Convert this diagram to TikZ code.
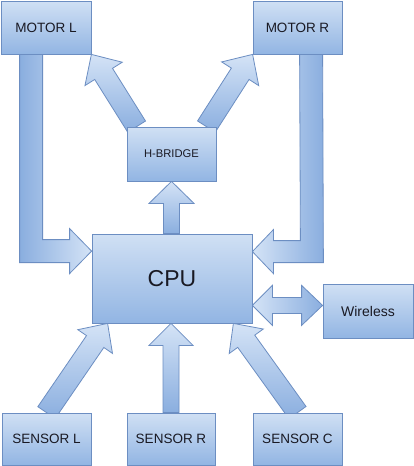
\documentclass[tikz,border=0pt]{standalone}
\usepackage{fontspec}
\setmainfont{Liberation Sans}
\usetikzlibrary{calc}
\pgfdeclarelayer{bg}
\pgfsetlayers{bg,main}
\definecolor{btop}{RGB}{208,224,244}
\definecolor{bbot}{RGB}{146,181,227}
\definecolor{bline}{RGB}{108,142,194}
\definecolor{alight}{RGB}{212,227,246}
\definecolor{adark}{RGB}{138,174,223}
\definecolor{txt}{RGB}{25,25,35}
\tikzset{
  box/.style={rectangle, draw=bline, line width=0.8pt, top color=btop, bottom color=bbot,
    inner sep=0pt, text=txt, font=\fontsize{13.5}{15}\selectfont},
  barr/.style={draw=bline, line width=0.8pt, top color=alight, bottom color=adark, line join=miter},
  barrlr/.style={draw=bline, line width=0.8pt, left color=adark, right color=alight, line join=miter},
  barrrl/.style={draw=bline, line width=0.8pt, left color=alight, right color=adark, line join=miter}
}
% #1 style, #2 start coord, #3 tip coord, #4 shaft half width, #5 head half width, #6 head length
\newcommand\blockarr[6]{%
  \coordinate (tmpH) at ($(#3)!#6!(#2)$);
  \path[#1] ($(#2)!#4!90:(#3)$) -- ($(tmpH)!#4!-90:(#2)$) -- ($(tmpH)!#5!-90:(#2)$) -- (#3)
    -- ($(tmpH)!#5!90:(#2)$) -- ($(tmpH)!#4!90:(#2)$) -- ($(#2)!#4!-90:(#3)$) -- cycle;
}
\begin{document}
\begin{tikzpicture}[x=1pt,y=-1pt]
\useasboundingbox (0,0) rectangle (414,466);
% nodes
\node[box, minimum width=90pt, minimum height=53pt] (ml) at (46,27.5) {MOTOR L};
\node[box, minimum width=89pt, minimum height=53pt] (mr) at (297.5,27.5) {MOTOR R};
\node[box, minimum width=89pt, minimum height=54pt, font=\fontsize{11.2}{13}\selectfont] (hb) at (171.5,154) {H-BRIDGE};
\node[box, minimum width=160pt, minimum height=89pt, font=\fontsize{23}{26}\selectfont] (cpu) at (172,278.5) {CPU};
\node[box, minimum width=90pt, minimum height=54pt, font=\fontsize{14}{16}\selectfont] (wl) at (368,311) {Wireless};
\node[box, minimum width=89pt, minimum height=52pt] (sl) at (46.5,439) {SENSOR L};
\node[box, minimum width=88pt, minimum height=52pt] (sr) at (171,439) {SENSOR R};
\node[box, minimum width=89pt, minimum height=52pt] (sc) at (297.5,439) {SENSOR C};
% helper coordinates
\coordinate (a1) at ($(hb.north west)+(10,0)$);
\coordinate (a2) at ($(hb.north east)+(-10,0)$);
\coordinate (c3) at (cpu.north -| hb.south);
\coordinate (c4) at (cpu.south -| sr.north);
\coordinate (c5) at ($(cpu.south west)+(16,0)$);
\coordinate (c6) at ($(cpu.south east)+(-19,0)$);
\coordinate (L0) at ($(cpu.south east)+(0,-18)$);
\coordinate (R0) at (wl.west |- L0);
\coordinate (P1) at ($(ml.south west)+(19,0)$);
\coordinate (T1) at ($(cpu.north west)+(0,17.5)$);
\coordinate (P2) at ($(mr.south west)+(47,0)$);
\coordinate (T2) at ($(cpu.north east)+(0,18)$);
\begin{pgfonlayer}{bg}
\fill[white] (0,0) rectangle (414,466);
\blockarr{barr}{a1}{ml.south east}{10.5pt}{22pt}{23pt}
\blockarr{barr}{a2}{mr.south west}{10.5pt}{22pt}{23pt}
\blockarr{barr}{c3}{hb.south}{8pt}{22.5pt}{22pt}
\blockarr{barr}{sr.north}{c4}{8pt}{22pt}{22pt}
\blockarr{barr}{sl.north}{c5}{10.5pt}{21pt}{22pt}
\blockarr{barr}{sc.north}{c6}{10.5pt}{21pt}{22pt}
% double arrow CPU <-> Wireless
\path[barrrl] (L0) -- ($(L0)+(20,-20)$) -- ($(L0)+(20,-8)$) -- ($(R0)+(-21,-8)$) -- ($(R0)+(-21,-20)$)
  -- (R0) -- ($(R0)+(-21,20)$) -- ($(R0)+(-21,8)$) -- ($(L0)+(20,8)$) -- ($(L0)+(20,20)$) -- cycle;
% L-shaped arrow MOTOR L -> CPU
\path[barrlr] (P1) -- ($(P1)+(23,0)$) -- ($(T1)+(-49,-11.5)$) -- ($(T1)+(-22,-11.5)$) -- ($(T1)+(-22,-22.5)$)
  -- (T1) -- ($(T1)+(-22,22.5)$) -- ($(T1)+(-22,11.5)$) -- ($(T1)+(-72,11.5)$) -- cycle;
% L-shaped arrow MOTOR R -> CPU
\path[barrrl] (P2) -- ($(T2)+(48,-11)$) -- ($(T2)+(21,-11)$) -- ($(T2)+(21,-22)$) -- (T2)
  -- ($(T2)+(21,22)$) -- ($(T2)+(21,11)$) -- ($(T2)+(71,11)$) -- ($(P2)+(23,0)$) -- cycle;
\end{pgfonlayer}
\end{tikzpicture}
\end{document}
